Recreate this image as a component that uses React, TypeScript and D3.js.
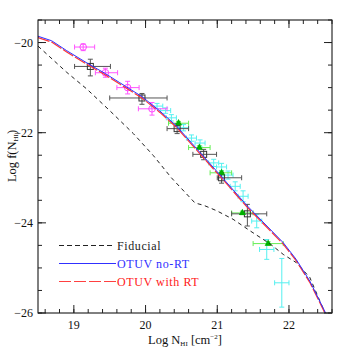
import React from "react";
import * as d3 from "d3";

// ---------- data ----------
const fiducialX = [18.5, 18.57, 18.9, 19.18, 19.5, 19.83, 20.11, 20.36, 20.69, 20.81, 20.99, 21.22, 21.46, 21.74, 21.92, 22.1, 22.29, 22.5];
const fiducialY = [-20.08, -20.18, -20.66, -21.03, -21.51, -22.02, -22.51, -23.0, -23.56, -23.61, -23.73, -23.92, -24.18, -24.47, -24.7, -24.88, -25.21, -25.99];

const otuvX = [18.5, 18.69, 18.9, 19.2, 19.44, 19.64, 19.95, 20.2, 20.43, 21.04, 21.41, 21.92, 22.1, 22.29, 22.52];
const otuvNoRtY = [-19.86, -19.96, -20.18, -20.47, -20.69, -20.89, -21.2, -21.52, -21.85, -22.94, -23.61, -24.44, -24.81, -25.29, -26.03];
const otuvRtY = [-19.89, -19.99, -20.21, -20.5, -20.72, -20.92, -21.23, -21.55, -21.88, -22.97, -23.64, -24.47, -24.84, -25.32, -26.06];

// error-bar points: x, y, x-low, x-high, y-low, y-high
const magentaX = [19.13, 19.44, 19.75, 20.09];
const magentaY = [-20.1, -20.67, -21.0, -21.47];
const magentaXlo = [19.01, 19.3, 19.6, 19.9];
const magentaXhi = [19.29, 19.61, 19.91, 20.3];
const magentaYlo = [-20.18, -20.77, -21.14, -21.61];
const magentaYhi = [-20.03, -20.57, -20.86, -21.33];

const squareX = [19.23, 19.95, 20.44, 20.81, 21.06, 21.42];
const squareY = [-20.53, -21.23, -21.91, -22.48, -23.0, -23.8];
const squareXlo = [19.01, 19.5, 20.3, 20.66, 21.0, 21.2];
const squareXhi = [19.51, 20.3, 20.6, 20.99, 21.34, 21.69];
const squareYlo = [-20.74, -21.37, -22.02, -22.6, -23.12, -24.07];
const squareYhi = [-20.37, -21.13, -21.8, -22.37, -22.88, -23.59];

const cyanX = [20.16, 20.28, 20.36, 20.53, 20.64, 20.76, 20.95, 21.06, 21.15, 21.25, 21.36, 21.55, 21.69, 21.9];
const cyanY = [-21.41, -21.51, -21.67, -21.89, -22.12, -22.23, -22.67, -22.76, -22.94, -23.19, -23.41, -23.96, -24.59, -25.33];
const cyanXerr = [0.08, 0.07, 0.07, 0.07, 0.07, 0.07, 0.07, 0.07, 0.07, 0.07, 0.07, 0.07, 0.1, 0.1];
const cyanYerr = [0.06, 0.06, 0.07, 0.07, 0.07, 0.07, 0.08, 0.08, 0.09, 0.1, 0.12, 0.15, 0.22, 0.54];

const greenX = [20.46, 20.75, 21.06, 21.35, 21.71];
const greenY = [-21.79, -22.33, -22.89, -23.78, -24.46];
const greenXlo = [20.32, 20.6, 20.9, 21.2, 21.5];
const greenXhi = [20.6, 20.9, 21.2, 21.5, 21.92];
const greenYerr = [0.04, 0.04, 0.04, 0.04, 0.04];

const xMajorTicks = [19, 20, 21, 22];
const yMajorTicks = [-26, -24, -22, -20];
const xTickLabels = ["19", "20", "21", "22"];
const yTickLabels = ["\u221226", "\u221224", "\u221222", "\u221220"];

const legendLabels = ["Fiducial", "OTUV no-RT", "OTUV with RT"];

// ---------- layout ----------
const W = 351, H = 351;
const L = 38, R = 332, T = 20, B = 313;
const FONT = "'Liberation Serif', 'DejaVu Serif', serif";

const x = d3.scaleLinear().domain([18.5, 22.6]).range([L, R]);
const y = d3.scaleLinear().domain([-26, -19.5]).range([B, T]);

const xMinor = d3.range(18.6, 22.61, 0.2).map((v) => +v.toFixed(2));
const yMinor = d3.range(-26, -19.49, 0.5).map((v) => +v.toFixed(2));

function lineOf(xs: number[], ys: number[]) {
  const gen = d3.line<number>().x((_, i) => x(xs[i])).y((_, i) => y(ys[i]));
  return gen(xs) || "";
}

type EB = { cx: number; cy: number; x0: number; x1: number; y0: number; y1: number };

function ErrorBar({ e, color, cap = 2.5, width = 1 }: { e: EB; color: string; cap?: number; width?: number }) {
  const px = x(e.cx), py = y(e.cy);
  const X0 = x(e.x0), X1 = x(e.x1), Y0 = y(e.y0), Y1 = y(e.y1);
  return (
    <g stroke={color} strokeWidth={width} fill="none">
      <line x1={X0} x2={X1} y1={py} y2={py} />
      <line x1={px} x2={px} y1={Y0} y2={Y1} />
      <line x1={X0} x2={X0} y1={py - cap} y2={py + cap} />
      <line x1={X1} x2={X1} y1={py - cap} y2={py + cap} />
      <line x1={px - cap} x2={px + cap} y1={Y0} y2={Y0} />
      <line x1={px - cap} x2={px + cap} y1={Y1} y2={Y1} />
    </g>
  );
}

export default function App() {
  const magenta: EB[] = magentaX.map((v, i) => ({ cx: v, cy: magentaY[i], x0: magentaXlo[i], x1: magentaXhi[i], y0: magentaYlo[i], y1: magentaYhi[i] }));
  const squares: EB[] = squareX.map((v, i) => ({ cx: v, cy: squareY[i], x0: squareXlo[i], x1: squareXhi[i], y0: squareYlo[i], y1: squareYhi[i] }));
  const cyan: EB[] = cyanX.map((v, i) => ({ cx: v, cy: cyanY[i], x0: v - cyanXerr[i], x1: v + cyanXerr[i], y0: cyanY[i] - cyanYerr[i], y1: cyanY[i] + cyanYerr[i] }));
  const green: EB[] = greenX.map((v, i) => ({ cx: v, cy: greenY[i], x0: greenXlo[i], x1: greenXhi[i], y0: greenY[i] - greenYerr[i], y1: greenY[i] + greenYerr[i] }));

  const tri = d3.symbol().type(d3.symbolTriangle).size(22)() || "";

  return (
    <svg width={W} height={H} style={{ position: "absolute", left: 0, top: 0, background: "#fff" }} fontFamily={FONT}>
      <defs>
        <clipPath id="plotclip">
          <rect x={L} y={T} width={R - L} height={B - T} />
        </clipPath>
      </defs>

      <g clipPath="url(#plotclip)">
        {/* data points */}
        {cyan.map((e, i) => <ErrorBar key={"c" + i} e={e} color="#55f0f0" />)}
        {green.map((e, i) => <ErrorBar key={"g" + i} e={e} color="#66ee55" />)}
        {squares.map((e, i) => <ErrorBar key={"s" + i} e={e} color="#555" />)}
        {squares.map((e, i) => (
          <rect key={"sq" + i} x={x(e.cx) - 3} y={y(e.cy) - 3} width={6} height={6} fill="none" stroke="#333" strokeWidth={1} />
        ))}
        {magenta.map((e, i) => <ErrorBar key={"m" + i} e={e} color="#ff55ff" />)}
        {magenta.map((e, i) => (
          <circle key={"mc" + i} cx={x(e.cx)} cy={y(e.cy)} r={3.3} fill="none" stroke="#ff44ff" strokeWidth={1} />
        ))}
        {green.map((e, i) => (
          <path key={"gt" + i} d={tri} transform={`translate(${x(e.cx)},${y(e.cy)})`} fill="#00b000" />
        ))}

        {/* model curves */}
        <path d={lineOf(fiducialX, fiducialY)} fill="none" stroke="#222" strokeWidth={1} strokeDasharray="4,3.5" />
        <path d={lineOf(otuvX, otuvRtY)} fill="none" stroke="#ff3535" strokeWidth={1.2} strokeDasharray="12,2" />
        <path d={lineOf(otuvX, otuvNoRtY)} fill="none" stroke="#3030ff" strokeWidth={1} />
      </g>

      {/* frame */}
      <rect x={L} y={T} width={R - L} height={B - T} fill="none" stroke="#000" strokeWidth={1} />

      {/* ticks */}
      <g stroke="#222" strokeWidth={1}>
        {xMinor.map((v) => (
          <g key={"xm" + v}>
            <line x1={x(v)} x2={x(v)} y1={B} y2={B - 4} />
            <line x1={x(v)} x2={x(v)} y1={T} y2={T + 4} />
          </g>
        ))}
        {xMajorTicks.map((v) => (
          <g key={"xM" + v}>
            <line x1={x(v)} x2={x(v)} y1={B} y2={B - 8} />
            <line x1={x(v)} x2={x(v)} y1={T} y2={T + 8} />
          </g>
        ))}
        {yMinor.map((v) => (
          <g key={"ym" + v}>
            <line x1={L} x2={L + 4} y1={y(v)} y2={y(v)} />
            <line x1={R} x2={R - 4} y1={y(v)} y2={y(v)} />
          </g>
        ))}
        {yMajorTicks.map((v) => (
          <g key={"yM" + v}>
            <line x1={L} x2={L + 8} y1={y(v)} y2={y(v)} />
            <line x1={R} x2={R - 8} y1={y(v)} y2={y(v)} />
          </g>
        ))}
      </g>

      {/* tick labels */}
      <g fontSize={12} fill="#111">
        {xMajorTicks.map((v, i) => (
          <text key={"xl" + v} x={x(v)} y={329} textAnchor="middle">{xTickLabels[i]}</text>
        ))}
        {yMajorTicks.map((v, i) => (
          <text key={"yl" + v} x={33} y={y(v) + 4} textAnchor="end">{yTickLabels[i]}</text>
        ))}
      </g>

      {/* axis titles */}
      <text x={185} y={344} textAnchor="middle" fontSize={12.5} fill="#111">
        Log N<tspan fontSize={7} dy={2}>HI</tspan>
        <tspan dy={-2}> [cm</tspan>
        <tspan fontSize={7} dy={-5}>−2</tspan>
        <tspan dy={5}>]</tspan>
      </text>
      <text transform="translate(16,156) rotate(-90)" textAnchor="middle" fontSize={12.5} fill="#111">
        Log  f(N<tspan fontSize={7} dy={2}>HI</tspan>
        <tspan dy={-2}>)</tspan>
      </text>

      {/* legend */}
      <g fontSize={12} letterSpacing={0.6}>
        <line x1={59} x2={114} y1={245.5} y2={245.5} stroke="#222" strokeDasharray="5,3" />
        <text x={117} y={249.5} fill="#222">{legendLabels[0]}</text>
        <line x1={59} x2={116} y1={263.5} y2={263.5} stroke="#3030ff" />
        <text x={117} y={267.5} fill="#3030ff">{legendLabels[1]}</text>
        <line x1={59} x2={116} y1={281.5} y2={281.5} stroke="#ff4040" strokeDasharray="12,3" />
        <text x={117} y={285.5} fill="#ff2020">{legendLabels[2]}</text>
      </g>
    </svg>
  );
}
